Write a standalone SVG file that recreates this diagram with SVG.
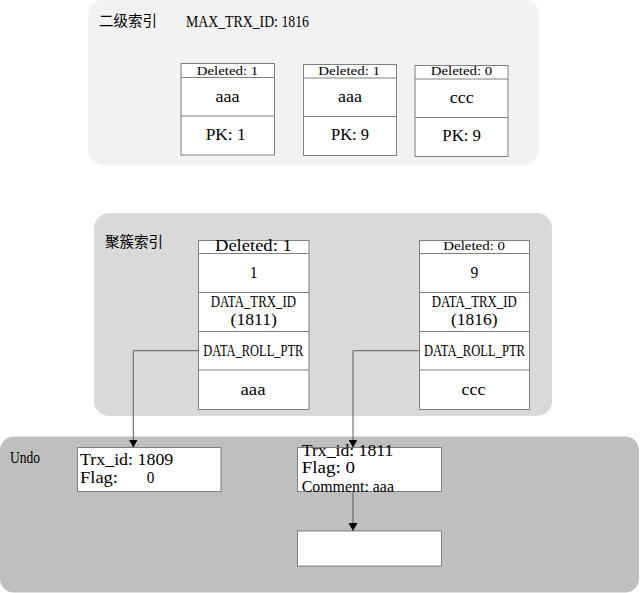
<svg xmlns="http://www.w3.org/2000/svg" width="640" height="593" viewBox="0 0 640 593">
<style>
.t{font-family:"Liberation Serif",serif;font-size:16px;fill:#000}
.s{font-family:"Liberation Serif",serif;font-size:12.5px;fill:#000}
.c{font-family:"Noto Sans CJK SC",sans-serif;font-size:14.5px;fill:#000}
.box{fill:#fff;stroke:#7f7f7f;stroke-width:1}
.ln{stroke:#7f7f7f;stroke-width:1;fill:none}
.con{stroke:#5a5a5a;stroke-width:1;fill:none}
</style>
<defs>
<marker id="arr" markerUnits="userSpaceOnUse" markerWidth="8" markerHeight="9" refX="8" refY="4.5" orient="auto">
<path d="M0,0 L8,4.5 L0,9 z" fill="#000"/>
</marker>
</defs>
<rect x="88" y="0" width="451" height="165" rx="15" fill="#f2f2f2"/>
<rect x="94" y="213" width="458" height="203" rx="15" fill="#d9d9d9"/>
<rect x="0" y="436.5" width="639" height="156" rx="14" fill="#bfbfbf"/>
<g id="sec-label">
<text class="c" x="99" y="25.5" textLength="58" lengthAdjust="spacingAndGlyphs">二级索引</text>
<text class="t" x="186" y="27" textLength="123" lengthAdjust="spacingAndGlyphs">MAX_TRX_ID: 1816</text>
</g>
<g id="sec1">
<rect class="box" x="181" y="63.5" width="93.5" height="91.5"/>
<path class="ln" d="M181 77.5H274.5M181 116H274.5"/>
<text class="s" x="196.7" y="74.5" textLength="61.6" lengthAdjust="spacingAndGlyphs">Deleted: 1</text>
<text class="t" x="215.5" y="101.5" textLength="24" lengthAdjust="spacingAndGlyphs">aaa</text>
<text class="t" x="205.7" y="139.5" textLength="40" lengthAdjust="spacingAndGlyphs">PK: 1</text>
</g>
<g id="sec2">
<rect class="box" x="303.5" y="64.5" width="93" height="91"/>
<path class="ln" d="M303.5 78H396.5M303.5 116.5H396.5"/>
<text class="s" x="318.3" y="74.7" textLength="61.7" lengthAdjust="spacingAndGlyphs">Deleted: 1</text>
<text class="t" x="338" y="101.7" textLength="24" lengthAdjust="spacingAndGlyphs">aaa</text>
<text class="t" x="331" y="140" textLength="38" lengthAdjust="spacingAndGlyphs">PK: 9</text>
</g>
<g id="sec3">
<rect class="box" x="415" y="65.5" width="93" height="91"/>
<path class="ln" d="M415 79H508M415 117.5H508"/>
<text class="s" x="430.7" y="75.3" textLength="61.6" lengthAdjust="spacingAndGlyphs">Deleted: 0</text>
<text class="t" x="449.7" y="102.5" textLength="24" lengthAdjust="spacingAndGlyphs">ccc</text>
<text class="t" x="442.3" y="141" textLength="38.7" lengthAdjust="spacingAndGlyphs">PK: 9</text>
</g>
<g id="clu-label">
<text class="c" x="105" y="247" textLength="58" lengthAdjust="spacingAndGlyphs">聚簇索引</text>
</g>
<g id="clu1">
<rect class="box" x="198.5" y="240.5" width="110.5" height="169"/>
<path class="ln" d="M198.5 253.5H309M198.5 292.5H309M198.5 331.5H309M198.5 370H309"/>
<text class="t" x="215" y="251" font-size="15.5" textLength="76.7" lengthAdjust="spacingAndGlyphs">Deleted: 1</text>
<text class="t" x="249.8" y="277.7" textLength="7.8" lengthAdjust="spacingAndGlyphs">1</text>
<text class="t" x="210.7" y="306.7" textLength="85.3" lengthAdjust="spacingAndGlyphs">DATA_TRX_ID</text>
<text class="t" x="230.5" y="325" textLength="46.5" lengthAdjust="spacingAndGlyphs">(1811)</text>
<text class="t" x="203.3" y="355.7" textLength="100" lengthAdjust="spacingAndGlyphs">DATA_ROLL_PTR</text>
<text class="t" x="240.5" y="395" textLength="25" lengthAdjust="spacingAndGlyphs">aaa</text>
</g>
<g id="clu2">
<rect class="box" x="419.5" y="240.5" width="110" height="169"/>
<path class="ln" d="M419.5 253.5H529.5M419.5 292.5H529.5M419.5 331.5H529.5M419.5 370H529.5"/>
<text class="s" x="443.3" y="250" textLength="61.7" lengthAdjust="spacingAndGlyphs">Deleted: 0</text>
<text class="t" x="470.4" y="277.7" textLength="7.8" lengthAdjust="spacingAndGlyphs">9</text>
<text class="t" x="431.7" y="306.7" textLength="85" lengthAdjust="spacingAndGlyphs">DATA_TRX_ID</text>
<text class="t" x="451" y="325" textLength="46.5" lengthAdjust="spacingAndGlyphs">(1816)</text>
<text class="t" x="424" y="355.7" textLength="101" lengthAdjust="spacingAndGlyphs">DATA_ROLL_PTR</text>
<text class="t" x="461.5" y="395" textLength="24" lengthAdjust="spacingAndGlyphs">ccc</text>
</g>
<g id="undo-label">
<text class="t" x="10" y="463" font-size="15" textLength="30" lengthAdjust="spacingAndGlyphs">Undo</text>
</g>
<g id="undo1">
<rect class="box" x="77.5" y="447.5" width="143.5" height="44"/>
<text class="t" x="80" y="465" textLength="93.3" lengthAdjust="spacingAndGlyphs">Trx_id: 1809</text>
<text class="t" y="483.3"><tspan x="80" textLength="38" lengthAdjust="spacingAndGlyphs">Flag:</tspan><tspan x="146.7" textLength="7.6" lengthAdjust="spacingAndGlyphs">0</tspan></text>
</g>
<g id="undo2">
<rect class="box" x="297.5" y="447.5" width="144" height="44"/>
<text class="t" x="301.7" y="456" textLength="91.7" lengthAdjust="spacingAndGlyphs">Trx_id: 1811</text>
<text class="t" x="301.7" y="473.3" textLength="53.3" lengthAdjust="spacingAndGlyphs">Flag: 0</text>
<text class="t" x="301.7" y="491.5" textLength="92.3" lengthAdjust="spacingAndGlyphs">Comment: aaa</text>
</g>
<g id="undo3">
<rect class="box" x="297.5" y="531" width="144" height="35"/>
</g>
<g id="connectors">
<path class="con" d="M198.5 350.7H133.3V447.5" marker-end="url(#arr)"/>
<path class="con" d="M419.5 350.7H353V447.5" marker-end="url(#arr)"/>
<path class="con" d="M353 491.5V531" marker-end="url(#arr)"/>
</g>
</svg>
